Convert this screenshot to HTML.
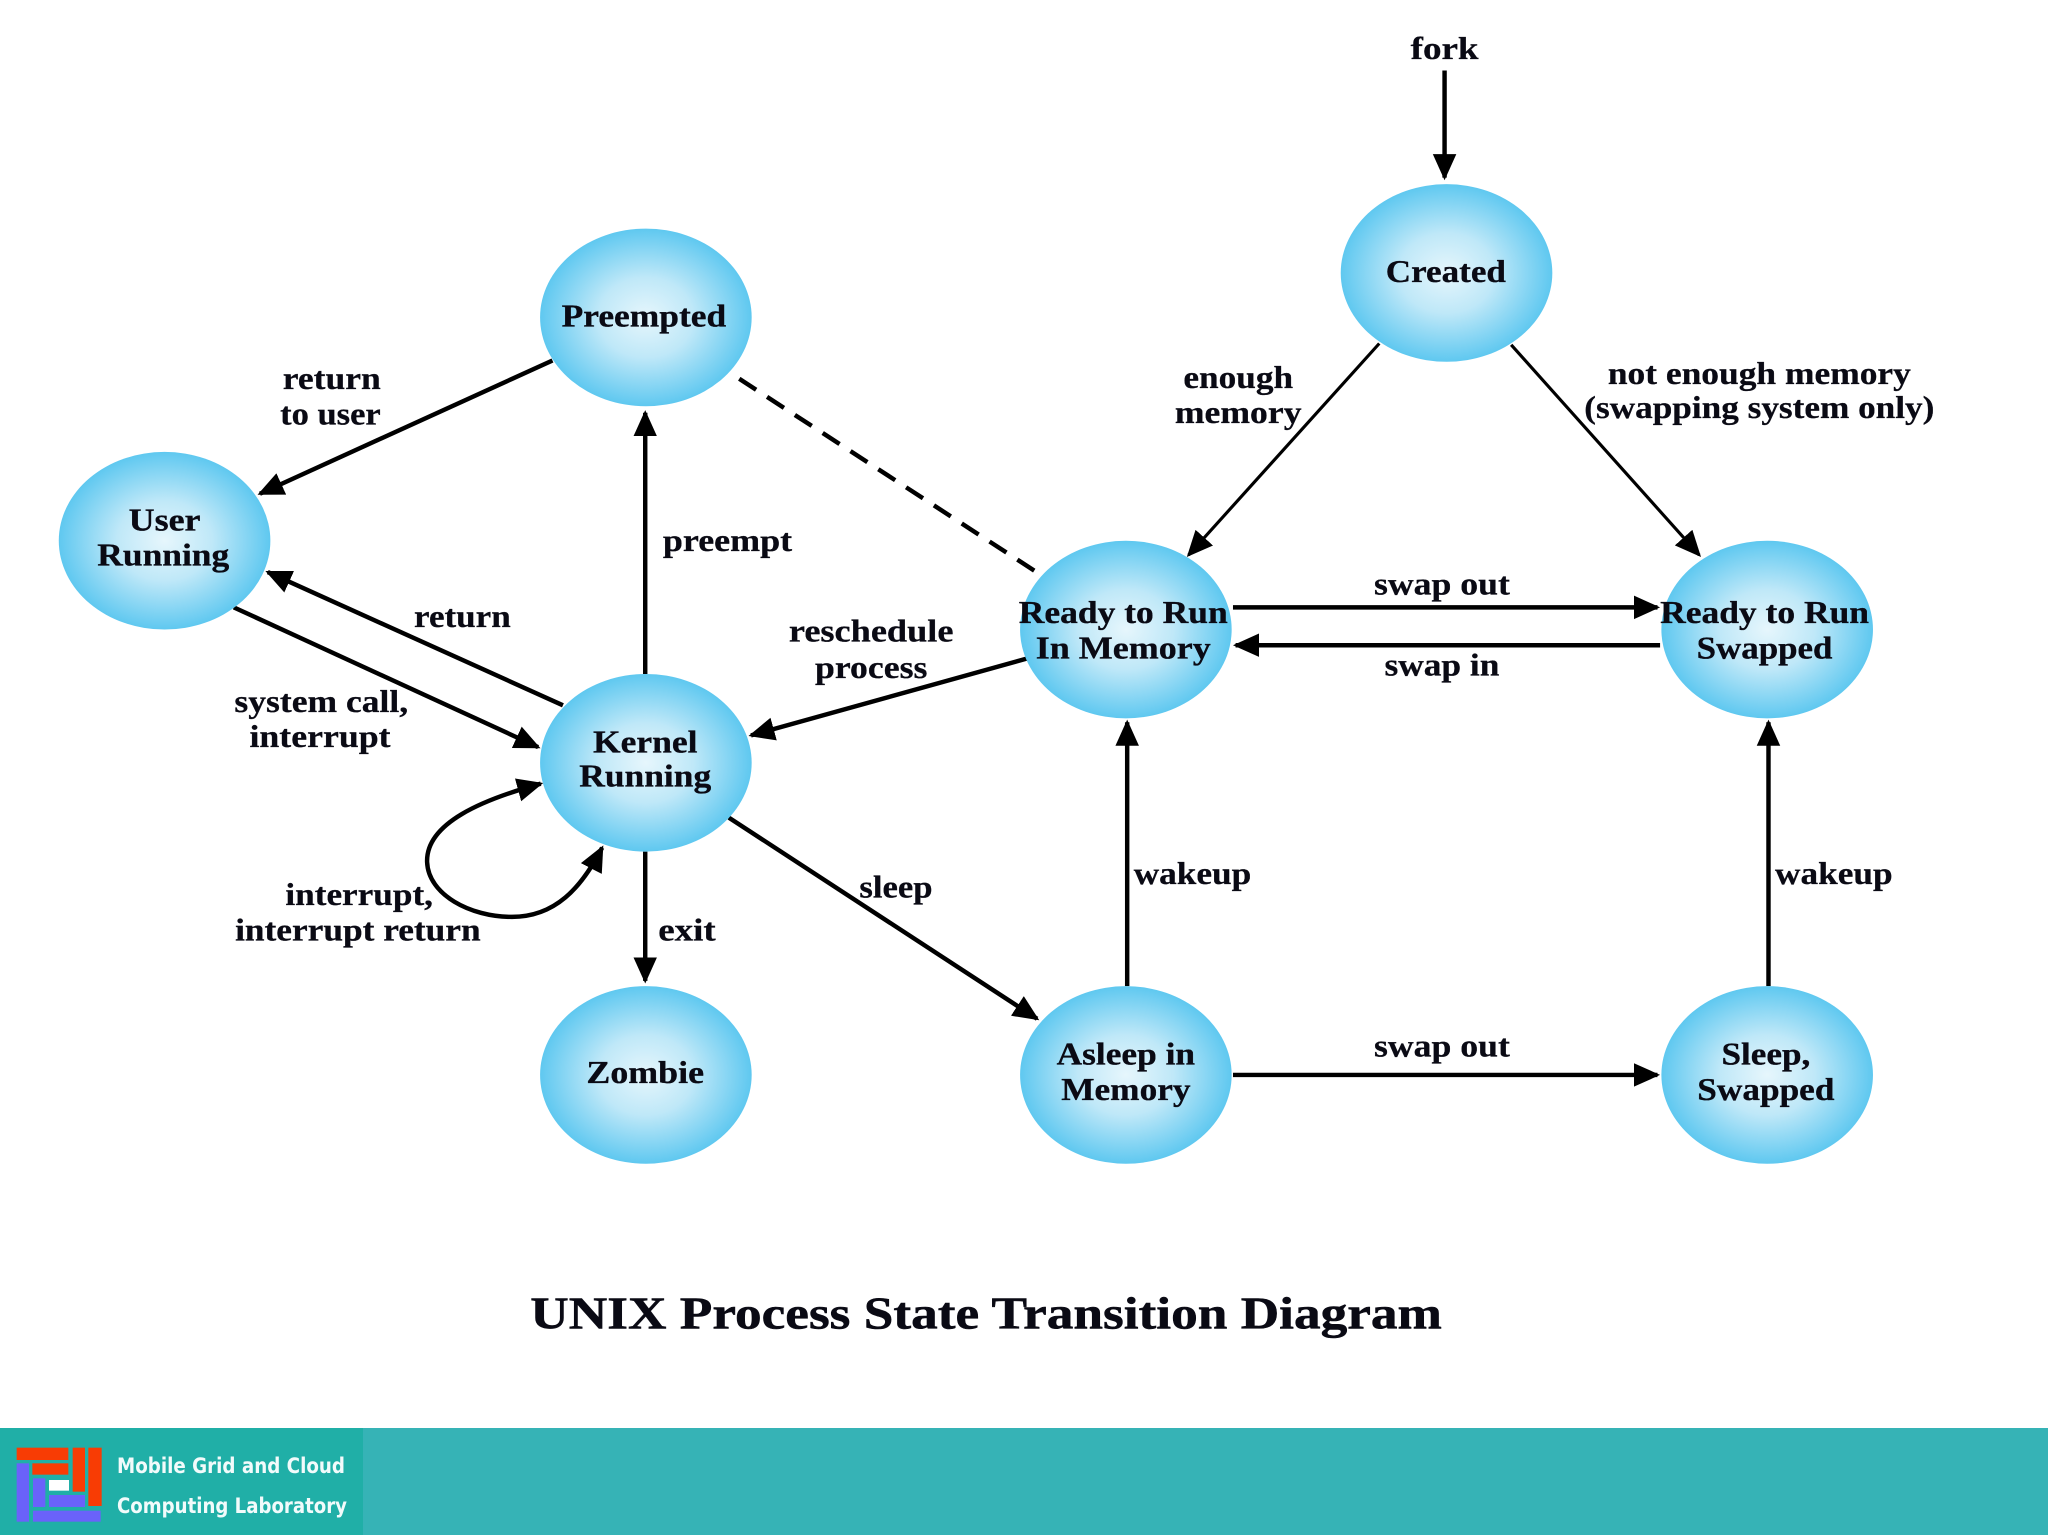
<!DOCTYPE html>
<html><head><meta charset="utf-8"><style>
html,body{margin:0;padding:0;background:#fff}
svg{display:block}
.n{font:bold 24.5px "Liberation Serif",serif;fill:#0a0a14;text-anchor:middle;stroke:#0a0a14;stroke-width:.25}
.l{font:bold 24px "Liberation Serif",serif;fill:#0a0a14;text-anchor:middle;stroke:#0a0a14;stroke-width:.2}
.a{stroke:#000;stroke-width:3.4;fill:none}
.t{stroke:#000;stroke-width:2.4;fill:none}
</style></head><body>
<svg width="2048" height="1536" viewBox="0 0 2048 1536" xmlns="http://www.w3.org/2000/svg">
<defs>
<radialGradient id="g" cx="50%" cy="50%" r="50%"><stop offset="0" stop-color="#e6f6fc"/><stop offset=".45" stop-color="#bfe8f8"/><stop offset="1" stop-color="#5fc8f0"/></radialGradient>
<marker id="m" markerUnits="userSpaceOnUse" markerWidth="24" markerHeight="24" refX="18" refY="10" orient="auto-start-reverse"><path d="M0 1L20 10L0 19z" fill="#000"/></marker>
</defs>
<rect width="2048" height="1536" fill="#fff"/>
<g transform="scale(1.30612)">
<g id="edges">
<path class="a" d="M1106 54V136" marker-end="url(#m)"/>
<path class="t" d="M1056 263L910 425" marker-end="url(#m)"/>
<path class="t" d="M1157 264L1301 425" marker-end="url(#m)"/>
<path class="a" d="M423 276L199 378" marker-end="url(#m)"/>
<path class="a" d="M494 516V316" marker-end="url(#m)"/>
<path class="a" d="M566 290L792 437" stroke-dasharray="15.4 10"/>
<path class="a" d="M431 540L205 438" marker-end="url(#m)"/>
<path class="a" d="M179 465L412 572" marker-end="url(#m)"/>
<path class="a" d="M944 465H1269" marker-end="url(#m)"/>
<path class="a" d="M1271 494H946" marker-end="url(#m)"/>
<path class="a" d="M787 504L575 563" marker-end="url(#m)"/>
<path class="a" d="M414 600C370 612 326 630 327 660C328 685 360 702 392 702C425 702 445 680 461 649" marker-start="url(#m)" marker-end="url(#m)"/>
<path class="a" d="M494 652V751" marker-end="url(#m)"/>
<path class="a" d="M558 626L794 780" marker-end="url(#m)"/>
<path class="a" d="M863 755V553" marker-end="url(#m)"/>
<path class="a" d="M944 823H1269" marker-end="url(#m)"/>
<path class="a" d="M1354 755V553" marker-end="url(#m)"/>
</g>
<g fill="url(#g)">
<ellipse cx="1107.500" cy="209" rx="81" ry="68"/>
<ellipse cx="494.500" cy="243" rx="81" ry="68"/>
<ellipse cx="126" cy="414" rx="81" ry="68"/>
<ellipse cx="862" cy="482" rx="81" ry="68"/>
<ellipse cx="1353" cy="482" rx="81" ry="68"/>
<ellipse cx="494.500" cy="584" rx="81" ry="68"/>
<ellipse cx="494.500" cy="823" rx="81" ry="68"/>
<ellipse cx="862" cy="823" rx="81" ry="68"/>
<ellipse cx="1353" cy="823" rx="81" ry="68"/>
</g>
<g class="nodes">
<text class="n" lengthAdjust="spacingAndGlyphs" x="1107" y="216" textLength="92">Created</text>
<text class="n" lengthAdjust="spacingAndGlyphs" x="493" y="250" textLength="126">Preempted</text>
<text class="n" lengthAdjust="spacingAndGlyphs" x="126" y="406" textLength="55">User</text>
<text class="n" lengthAdjust="spacingAndGlyphs" x="125" y="433" textLength="101">Running</text>
<text class="n" lengthAdjust="spacingAndGlyphs" x="860" y="477" textLength="160">Ready to Run</text>
<text class="n" lengthAdjust="spacingAndGlyphs" x="860" y="504" textLength="134">In Memory</text>
<text class="n" lengthAdjust="spacingAndGlyphs" x="1351" y="477" textLength="160">Ready to Run</text>
<text class="n" lengthAdjust="spacingAndGlyphs" x="1351" y="504" textLength="104">Swapped</text>
<text class="n" lengthAdjust="spacingAndGlyphs" x="494" y="576" textLength="80">Kernel</text>
<text class="n" lengthAdjust="spacingAndGlyphs" x="494" y="602" textLength="101">Running</text>
<text class="n" lengthAdjust="spacingAndGlyphs" x="494" y="829" textLength="90">Zombie</text>
<text class="n" lengthAdjust="spacingAndGlyphs" x="862" y="815" textLength="106">Asleep in</text>
<text class="n" lengthAdjust="spacingAndGlyphs" x="862" y="842" textLength="99">Memory</text>
<text class="n" lengthAdjust="spacingAndGlyphs" x="1352" y="815" textLength="68">Sleep,</text>
<text class="n" lengthAdjust="spacingAndGlyphs" x="1352" y="842" textLength="105">Swapped</text>
</g>
<g class="labels">
<text class="l" lengthAdjust="spacingAndGlyphs" x="1106" y="45" textLength="52">fork</text>
<text class="l" lengthAdjust="spacingAndGlyphs" x="948" y="297" textLength="84">enough</text>
<text class="l" lengthAdjust="spacingAndGlyphs" x="948" y="324" textLength="97">memory</text>
<text class="l" lengthAdjust="spacingAndGlyphs" x="1347" y="294" textLength="232">not enough memory</text>
<text class="l" lengthAdjust="spacingAndGlyphs" x="1347" y="320" textLength="268">(swapping system only)</text>
<text class="l" lengthAdjust="spacingAndGlyphs" x="254" y="298" textLength="75">return</text>
<text class="l" lengthAdjust="spacingAndGlyphs" x="253" y="325" textLength="77">to user</text>
<text class="l" lengthAdjust="spacingAndGlyphs" x="557" y="422" textLength="99">preempt</text>
<text class="l" lengthAdjust="spacingAndGlyphs" x="354" y="480" textLength="74">return</text>
<text class="l" lengthAdjust="spacingAndGlyphs" x="667" y="491" textLength="126">reschedule</text>
<text class="l" lengthAdjust="spacingAndGlyphs" x="667" y="519" textLength="86">process</text>
<text class="l" lengthAdjust="spacingAndGlyphs" x="1104" y="455" textLength="104">swap out</text>
<text class="l" lengthAdjust="spacingAndGlyphs" x="1104" y="517" textLength="88">swap in</text>
<text class="l" lengthAdjust="spacingAndGlyphs" x="246" y="545" textLength="133">system call,</text>
<text class="l" lengthAdjust="spacingAndGlyphs" x="245" y="572" textLength="108">interrupt</text>
<text class="l" lengthAdjust="spacingAndGlyphs" x="275" y="693" textLength="113">interrupt,</text>
<text class="l" lengthAdjust="spacingAndGlyphs" x="274" y="720" textLength="188">interrupt return</text>
<text class="l" lengthAdjust="spacingAndGlyphs" x="526" y="720" textLength="44">exit</text>
<text class="l" lengthAdjust="spacingAndGlyphs" x="686" y="687" textLength="56">sleep</text>
<text class="l" lengthAdjust="spacingAndGlyphs" x="913" y="677" textLength="90">wakeup</text>
<text class="l" lengthAdjust="spacingAndGlyphs" x="1404" y="677" textLength="90">wakeup</text>
<text class="l" lengthAdjust="spacingAndGlyphs" x="1104" y="809" textLength="104">swap out</text>
<text lengthAdjust="spacingAndGlyphs" style="font:bold 35px 'Liberation Serif',serif;fill:#0a0a14;text-anchor:middle;stroke:#0a0a14;stroke-width:.4" x="755" y="1017" textLength="698">UNIX Process State Transition Diagram</text>
</g>
</g>
<rect x="0" y="1428" width="2048" height="107" fill="#36b3b6"/>
<rect x="0" y="1428" width="363" height="107" fill="#20afa7"/>
<g transform="translate(0 1400) scale(.33333)">
<rect x="50" y="143" width="155" height="37" fill="#f83c04"/>
<rect x="97" y="190" width="108" height="34" fill="#f83c04"/>
<rect x="218" y="143" width="37" height="132" fill="#f83c04"/>
<rect x="265" y="143" width="40" height="175" fill="#f83c04"/>
<rect x="50" y="190" width="37" height="175" fill="#6a62fa"/>
<rect x="99" y="235" width="37" height="86" fill="#6a62fa"/>
<rect x="147" y="285" width="108" height="36" fill="#6a62fa"/>
<rect x="99" y="332" width="203" height="33" fill="#6a62fa"/>
<rect x="147" y="240" width="60" height="32" fill="#fff"/>
</g>
<g font-family="'DejaVu Sans',sans-serif" font-weight="bold" font-size="21" fill="#f2fbfb">
<text x="117" y="1473" textLength="228" lengthAdjust="spacingAndGlyphs">Mobile Grid and Cloud</text>
<text x="117" y="1513" textLength="230" lengthAdjust="spacingAndGlyphs">Computing Laboratory</text>
</g>
</svg>
</body></html>
